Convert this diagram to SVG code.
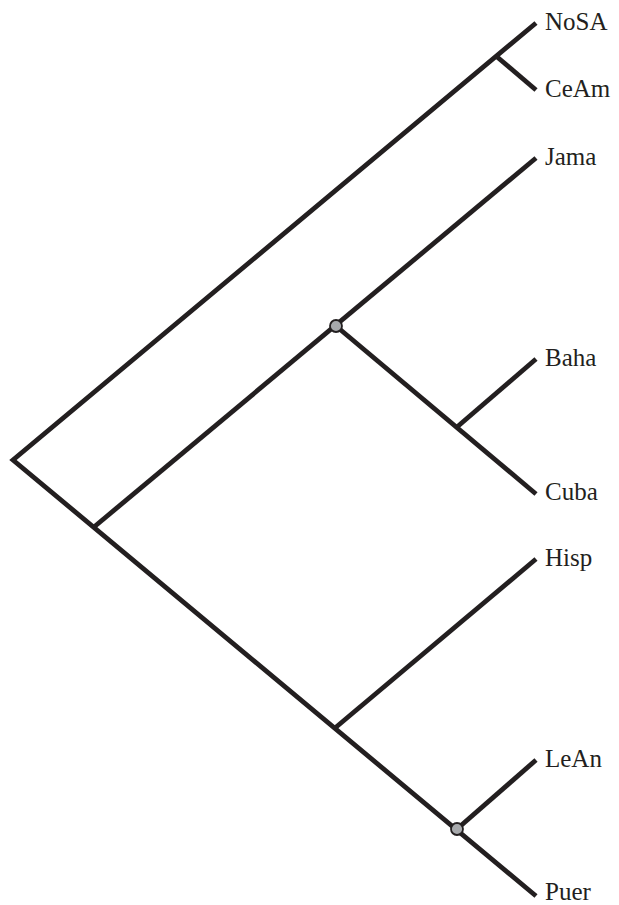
<svg xmlns="http://www.w3.org/2000/svg" width="619" height="905" viewBox="0 0 619 905">
  <style>
    .edge { fill: none; stroke: #231f20; stroke-width: 4.8; stroke-linecap: butt; stroke-linejoin: miter; }
    .tip { font-family: "Liberation Serif", "Times New Roman", serif; font-size: 25px; fill: #231f20; }
    .hub { fill: #a7a9ac; stroke: #231f20; stroke-width: 1.8; }
  </style>
  <rect width="619" height="905" fill="#ffffff"/>
  <g id="connectors">
    <path class="edge" d="M536,23 L13,460 L536,896"/>
    <path class="edge" d="M496,56 L536,90"/>
    <path class="edge" d="M94,527 L536,158"/>
    <path class="edge" d="M336,326 L536,494"/>
    <path class="edge" d="M457,427 L536,359"/>
    <path class="edge" d="M335,728 L536,559"/>
    <path class="edge" d="M457,829 L536,760"/>
  </g>
  <g id="node-split-caribbean"><circle class="hub" cx="336" cy="326" r="6"/></g>
  <g id="node-split-antilles"><circle class="hub" cx="457" cy="829" r="6"/></g>
  <g id="leaf-NoSA"><text class="tip" x="545" y="30">NoSA</text></g>
  <g id="leaf-CeAm"><text class="tip" x="545" y="97">CeAm</text></g>
  <g id="leaf-Jama"><text class="tip" x="545" y="165">Jama</text></g>
  <g id="leaf-Baha"><text class="tip" x="545" y="366">Baha</text></g>
  <g id="leaf-Cuba"><text class="tip" x="545" y="500">Cuba</text></g>
  <g id="leaf-Hisp"><text class="tip" x="545" y="566">Hisp</text></g>
  <g id="leaf-LeAn"><text class="tip" x="545" y="767">LeAn</text></g>
  <g id="leaf-Puer"><text class="tip" x="545" y="900">Puer</text></g>
</svg>
